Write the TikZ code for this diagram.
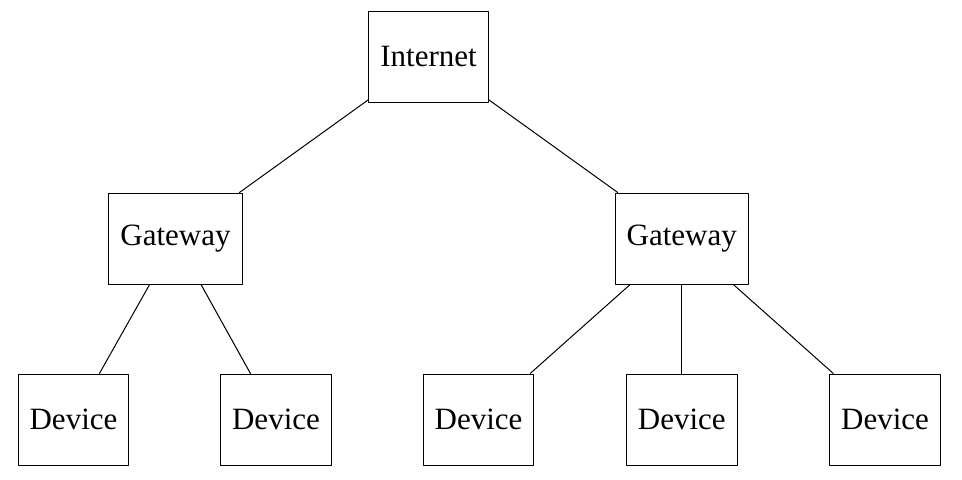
\documentclass[tikz,border=0pt]{standalone}
\usepackage{fontspec}
\setmainfont{Liberation Serif}
\usetikzlibrary{positioning}
\tikzset{box/.style={draw, rectangle, line width=0.5pt, minimum height=45.5pt, inner xsep=5.75pt, font=\fontsize{15.5}{18}\selectfont}}

\begin{document}
\begin{tikzpicture}[x=0.5pt,y=-0.5pt, line cap=round, line join=round]
		\useasboundingbox (0,0) rectangle (962,479);
		% top level
		\node[box] (internet) at (428.5,56.5) {Internet};
		
		% gateways
		\node[box] (gwL) at (175.5,238.5) {Gateway};
		\node[box] (gwR) at (681.75,238.5) {Gateway};
		
		% devices
		\foreach \name/\x in {devA/73.5, devB/276, devC/478.5, devD/681.75, devE/885}
			\node[box] (\name) at (\x,419.5) {Device};
		
		% links
		\draw [line width=0.5pt] (internet)--(gwL);
		\draw [line width=0.5pt] (internet)--(gwR);
		\foreach \dev in {devA, devB}
			\draw [line width=0.5pt] (gwL)--(\dev);
		\foreach \dev in {devC, devD, devE}
			\draw [line width=0.5pt] (gwR)--(\dev);
\end{tikzpicture}
\end{document}
